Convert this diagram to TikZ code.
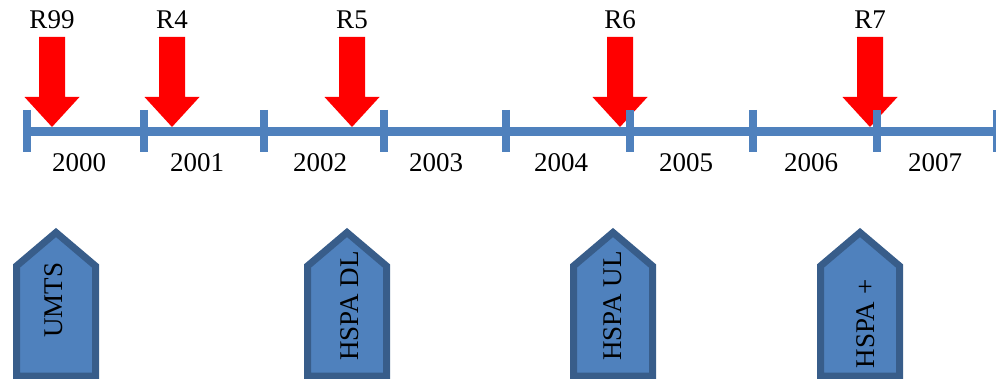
\documentclass[tikz,border=0pt]{standalone}
\usepackage{fontspec}
\setmainfont{Liberation Serif}
\definecolor{lineblue}{HTML}{4F81BD}
\definecolor{boxfill}{HTML}{4F81BD}
\definecolor{boxedge}{HTML}{385D8A}
\definecolor{relred}{HTML}{FF0000}
\tikzset{
  lbl/.style={font=\fontsize{27}{31}\selectfont, inner sep=0pt, text=black},
  tick/.style={draw=lineblue, line width=8pt},
  axis/.style={draw=lineblue, line width=9pt},
  relarrow/.pic={
    \fill[relred] (0,0) -- (-27.5,-30) -- (-13,-30) -- (-13,-90)
      -- (13,-90) -- (13,-30) -- (27.5,-30) -- cycle;
  },
  featbox/.pic={
    \filldraw[fill=boxfill, draw=boxedge, line width=7pt, line join=miter]
      (-39.5,376) -- (-39.5,266) -- (0,232.5) -- (39.5,266) -- (39.5,376) -- cycle;
  }
}
\begin{document}
\begin{tikzpicture}[x=1pt, y=-1pt]
  \useasboundingbox (0,0) rectangle (996,379);

  % release arrows (drawn under the axis)
  \foreach \x/\r in {52/R99, 172/R4, 352/R5, 620/R6, 870/R7} {
    \pic at (\x,127) {relarrow};
    \node[lbl] (rel-\r) at (\x,20) {\r};
  }

  % time axis with yearly ticks
  \coordinate (axis-start) at (23,132);
  \coordinate (axis-end) at (996,132);
  \draw[axis] (axis-start) -- (axis-end);
  \foreach \x [count=\i] in {27, 144, 264, 384, 506, 630, 753, 877, 997} {
    \coordinate (tk\i-top) at (\x,110);
    \coordinate (tk\i-bot) at (\x,152);
    \draw[tick] (tk\i-top) -- (tk\i-bot);
  }

  % year labels
  \foreach \x/\y in {79/2000, 197/2001, 320/2002, 436/2003, 561/2004, 686/2005, 811/2006, 935/2007} {
    \node[lbl] (yr\y) at (\x,163) {\y};
  }

  % technology boxes
  \pic at (56,0) {featbox};
  \node[lbl, rotate=90] (umts) at (54,300) {UMTS};
  \pic at (347,0) {featbox};
  \node[lbl, rotate=90] (hspadl) at (350,306) {HSPA DL};
  \pic at (613,0) {featbox};
  \node[lbl, rotate=90] (hspaul) at (613,306) {HSPA UL};
  \pic at (860,0) {featbox};
  \node[lbl, rotate=90] (hspaplus) at (866,324) {HSPA +};
\end{tikzpicture}
\end{document}
